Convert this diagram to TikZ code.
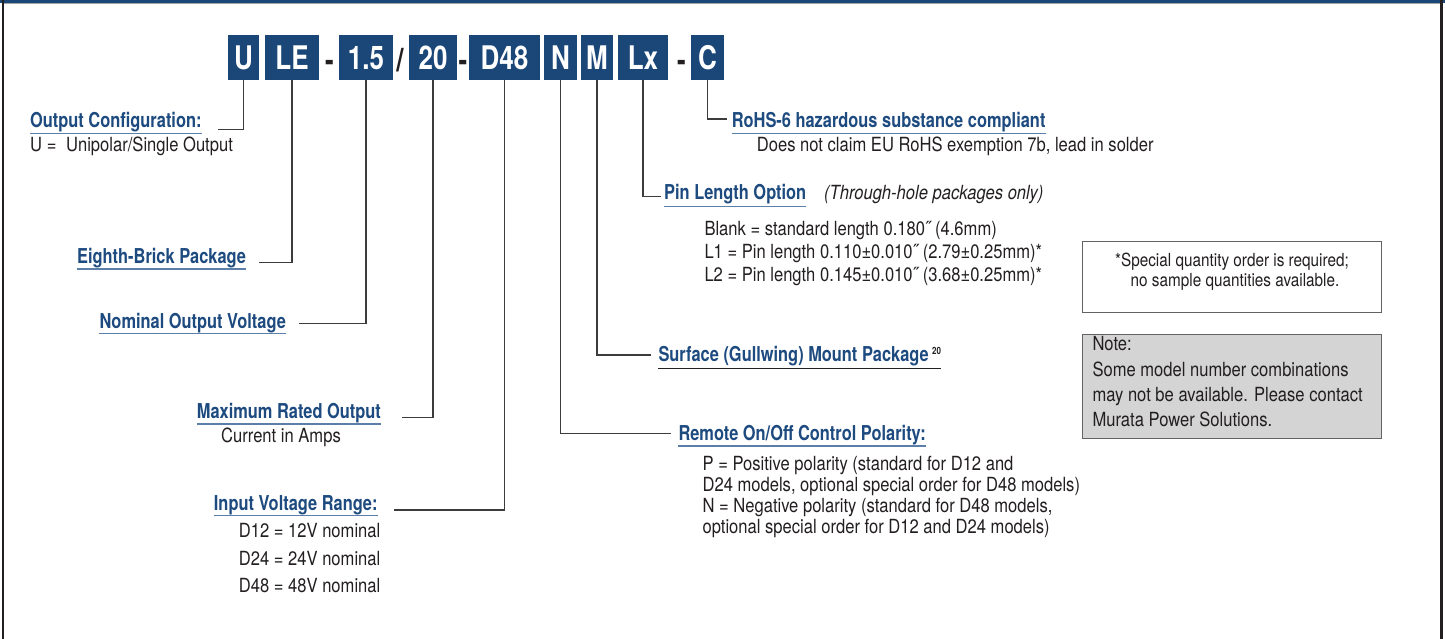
\documentclass[tikz,border=0pt]{standalone}
\usepackage{fontspec}
\setmainfont{TeX Gyre Heros}[FakeStretch=0.85]
\newfontfamily\hd{TeX Gyre Heros}[FakeStretch=0.80]
\definecolor{boxblue}{HTML}{1A4678}
\definecolor{headblue}{HTML}{1D4A7F}
\definecolor{ulblue}{HTML}{5C7FAA}
\definecolor{linegray}{HTML}{3C3C3C}
\definecolor{textgray}{HTML}{231F20}
\definecolor{notegray}{HTML}{D4D4D4}
\definecolor{framedark}{HTML}{231F20}
\tikzset{
  code/.style={fill=boxblue, text=white, font=\hd\bfseries\fontsize{32.5}{33}\selectfont,
    minimum height=45pt, inner sep=0pt, anchor=north},
  sep/.style={text=textgray, font=\hd\bfseries\fontsize{32.5}{33}\selectfont, inner sep=0pt, anchor=base},
  conn/.style={draw=linegray, line width=1.3pt},
  hdg/.style={text=headblue, font=\hd\bfseries\fontsize{20.5}{22}\selectfont, inner sep=0pt, anchor=base west},
  body/.style={text=textgray, font=\fontsize{19.5}{21}\selectfont, inner sep=0pt, anchor=base west},
  small/.style={text=textgray, font=\fontsize{18}{20}\selectfont, inner sep=0pt, anchor=base},
  uline/.style={draw=ulblue, line width=1.3pt},
  kline/.style={draw=textgray, line width=1.3pt},
  infobox/.style={draw=linegray!80, line width=1pt}
}
\begin{document}
\begin{tikzpicture}[x=1pt,y=-1pt]
\useasboundingbox (0,0) rectangle (1445,639);
% frame
\draw[draw=boxblue, line width=2.6pt] (0,1.3) -- (1445,1.3);
\draw[draw=black!35, line width=0.8pt] (3,3.4) -- (1440,3.4);
\draw[draw=framedark, line width=2pt] (2.8,0) -- (2.8,639);
\draw[draw=framedark, line width=3pt] (1441.8,0) -- (1441.8,639);

% model code boxes
\node[code, minimum width=31pt] (bU) at (243.5,35) {U};
\node[code, minimum width=54pt] (bLE) at (292,35) {LE};
\node[sep] (d1) at (329.5,72) {-};
\node[code, minimum width=54pt] (b15) at (366,35) {1.5};
\node[sep] (sl) at (400,72) {/};
\node[code, minimum width=48pt] (b20) at (433,35) {20};
\node[sep] (d2) at (463,72) {-};
\node[code, minimum width=71pt] (bD) at (504.5,35) {D48};
\node[code, minimum width=33pt] (bN) at (560.5,35) {N};
\node[code, minimum width=32pt] (bM) at (597,35) {M};
\node[code, minimum width=50pt] (bL) at (643,35) {Lx};
\node[sep] (d3) at (681.5,72) {-};
\node[code, minimum width=33pt] (bC) at (707.5,35) {C};

% left side
\node[hdg] (hOut) at (30,128) {Output Configuration:};
\draw[uline] ([yshift=-5.5pt]hOut.base west) -- ([yshift=-5.5pt]hOut.base east);
\node[body] (tOut) at (30,151.7) {U =\enspace Unipolar/Single Output};
\coordinate (cOut) at (218,129.5);
\draw[conn] (bU.south) |- (cOut);

\node[hdg] (hEB) at (77,263) {Eighth-Brick Package};
\draw[uline] ([yshift=-6pt]hEB.base west) -- ([yshift=-6pt]hEB.base east);
\coordinate (cEB) at (259,262.5);
\draw[conn] (bLE.south) |- (cEB);

\node[hdg] (hNOV) at (99.3,328) {Nominal Output Voltage};
\draw[uline] ([yshift=-5.5pt]hNOV.base west) -- ([yshift=-5.5pt]hNOV.base east);
\coordinate (cNOV) at (299,323.3);
\draw[conn] (b15.south) |- (cNOV);

\node[hdg] (hMax) at (196.7,418) {Maximum Rated Output};
\draw[uline] ([yshift=-6pt]hMax.base west) -- ([yshift=-6pt]hMax.base east);
\node[body] (tMax) at (221,442.7) {Current in Amps};
\coordinate (cMax) at (402,417.3);
\draw[conn] (b20.south) |- (cMax);

\node[hdg] (hIn) at (213.7,510) {Input Voltage Range:};
\draw[uline] ([yshift=-5.5pt]hIn.base west) -- ([yshift=-5.5pt]hIn.base east);
\node[body] (tIn1) at (238.7,537.7) {D12 = 12V nominal};
\node[body] (tIn2) at (238.7,565) {D24 = 24V nominal};
\node[body] (tIn3) at (238.7,592.7) {D48 = 48V nominal};
\coordinate (cIn) at (394,510);
\draw[conn] (bD.south) |- (cIn);

% right side
\node[hdg] (hRoHS) at (731.7,127.3) {RoHS-6 hazardous substance compliant};
\draw[uline] ([yshift=-6pt]hRoHS.base west) -- ([yshift=-6pt]hRoHS.base east);
\node[body] (tRoHS) at (756.7,151.7) {Does not claim EU RoHS exemption 7b, lead in solder};
\coordinate (cRoHS) at (726.7,119);
\draw[conn] (bC.south) |- (cRoHS);

\node[hdg] (hPin) at (664,200) {Pin Length Option};
\draw[uline] ([yshift=-6.5pt]hPin.base west) -- ([yshift=-6.5pt]hPin.base east);
\node[body, font=\itshape\fontsize{19.5}{21}\selectfont] (tThr) at (824,200) {(Through-hole packages only)};
\node[body] (tPin1) at (704.3,235) {Blank = standard length 0.180˝ (4.6mm)};
\node[body] (tPin2) at (704.3,258) {L1 = Pin length 0.110±0.010˝ (2.79±0.25mm)*};
\node[body] (tPin3) at (704.3,281.5) {L2 = Pin length 0.145±0.010˝ (3.68±0.25mm)*};
\coordinate (cPin) at (660.7,196.7);
\draw[conn] (bL.south) |- (cPin);

\node[hdg] (hSMT) at (658.3,361.7) {Surface (Gullwing) Mount Package\,\raisebox{7pt}{\textcolor{textgray}{\fontsize{10}{10}\selectfont 20}}};
\draw[kline] ([yshift=-6.6pt]hSMT.base west) -- ([yshift=-6.6pt]hSMT.base east);
\coordinate (cSMT) at (651,355);
\draw[conn] (bM.south) |- (cSMT);

\node[hdg] (hRem) at (678.3,440) {Remote On/Off Control Polarity:};
\draw[uline] ([yshift=-6pt]hRem.base west) -- ([yshift=-6pt]hRem.base east);
\node[body] (tRem1) at (702.4,470) {P = Positive polarity (standard for D12 and};
\node[body] (tRem2) at (702.4,491) {D24 models, optional special order for D48 models)};
\node[body] (tRem3) at (702.4,512) {N = Negative polarity (standard for D48 models,};
\node[body] (tRem4) at (702.4,533) {optional special order for D12 and D24 models)};
\coordinate (cRem) at (671,433.3);
\draw[conn] (bN.south) |- (cRem);

% info boxes
\draw[infobox, fill=white] (1082.7,241.7) rectangle (1381,312.7);
\node[small] (tSp1) at (1232,266) {*Special quantity order is required;};
\node[small] (tSp2) at (1235,286) {no sample quantities available.};

\draw[infobox, fill=notegray] (1082.7,334.3) rectangle (1381,438.3);
\node[body] (tN1) at (1092.3,350) {Note:};
\node[body] (tN2) at (1092.3,376.7) {Some model number combinations};
\node[body] (tN3) at (1092.3,401.7) {may not be available. Please contact};
\node[body] (tN4) at (1092.3,426.7) {Murata Power Solutions.};
\end{tikzpicture}
\end{document}
